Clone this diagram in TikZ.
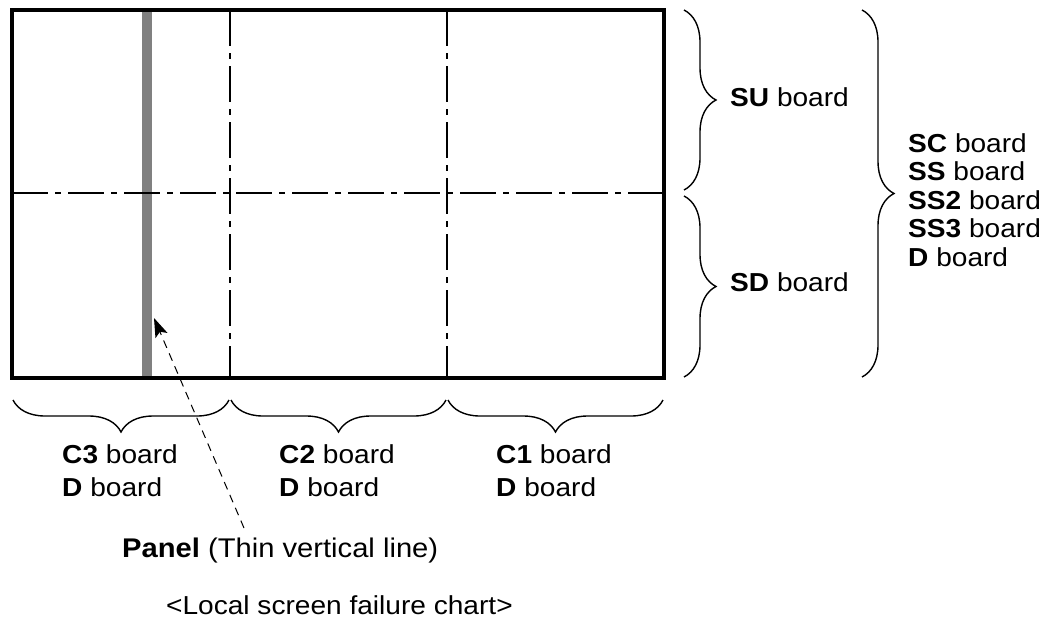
\documentclass[tikz,border=0pt]{standalone}
\usepackage{fontspec}
\setmainfont{Liberation Sans}[FakeStretch=1.08]
\usetikzlibrary{decorations.pathreplacing,arrows.meta}
\begin{document}
\begin{tikzpicture}[x=1pt,y=-1pt,
  lbl/.style={font=\fontsize{26}{28.5}\selectfont, inner sep=0pt, align=left},
  blbl/.style={font=\fontsize{26}{33}\selectfont, inner sep=0pt, align=left},
  dashdot/.style={line width=1.1pt, dash pattern=on 36pt off 7pt on 6pt off 7pt},
  bracestyle/.style={line width=1.4pt, decorate, decoration={brace, amplitude=32pt, aspect=0.5}},
  panelbar/.style={fill=black!50, draw=none},
  frame/.style={line width=4pt}]
\useasboundingbox (0,0) rectangle (1049,619);
% gray panel line
\fill[panelbar] (142,10) rectangle (152,378);
% dash-dot dividers
\draw[dashdot] (230,10) -- (230,378);
\draw[dashdot] (447,10) -- (447,378);
\draw[dashdot] (12,193) -- (664,193);
% frame
\draw[frame] (12,10) rectangle (664,378);
% right braces
\draw[bracestyle] (684,10) -- (684,190);
\draw[bracestyle] (684,196) -- (684,377);
\draw[bracestyle] (862,10) -- (862,377);
\node[lbl, anchor=west] (su) at (730,97) {\textbf{SU} board};
\node[lbl, anchor=west] (sd) at (730,282) {\textbf{SD} board};
\node[lbl, anchor=west] (list) at (908,200) {\textbf{SC} board\\\textbf{SS} board\\\textbf{SS2} board\\\textbf{SS3} board\\\textbf{D} board};
% bottom braces
\draw[bracestyle] (229,400) -- (13,400);
\draw[bracestyle] (446,400) -- (231,400);
\draw[bracestyle] (663,400) -- (448,400);
\node[blbl] (c3) at (120,471) {\textbf{C3} board\\\textbf{D} board};
\node[blbl] (c2) at (337,471) {\textbf{C2} board\\\textbf{D} board};
\node[blbl] (c1) at (554,471) {\textbf{C1} board\\\textbf{D} board};
% panel label and arrow
\node[lbl, font=\fontsize{27}{30}\selectfont, anchor=west] (panel) at (122,551) {\textbf{Panel} (Thin vertical line)};
\node[lbl, anchor=west] (chart) at (166,605) {<Local screen failure chart>};
\coordinate (arrstart) at (244,528);
\coordinate (arrtip) at (154,318);
\draw[line width=1pt, dash pattern=on 8pt off 6pt, -{Stealth[length=19pt,width=13pt,inset=4pt]}] (arrstart) -- (arrtip);
\end{tikzpicture}
\end{document}
